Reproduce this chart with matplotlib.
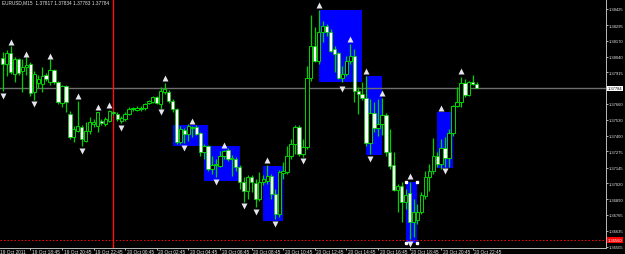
import numpy as np
import matplotlib
matplotlib.use('Agg')
import matplotlib.pyplot as plt
from matplotlib.patches import Rectangle

# EURUSD M15, bar 0 = 19 Oct 2011 17:00
opens = [1.38029, 1.37980, 1.38069, 1.37900, 1.38021, 1.37924, 1.37956, 1.37980, 1.37754, 1.37827,
         1.37819, 1.37892, 1.37835, 1.37932, 1.37835, 1.37666, 1.37803, 1.37577, 1.37391, 1.37440,
         1.37472, 1.37359, 1.37440, 1.37496, 1.37480, 1.37520, 1.37496, 1.37520, 1.37593, 1.37577,
         1.37520, 1.37537, 1.37577, 1.37617, 1.37609, 1.37617, 1.37625, 1.37666, 1.37674, 1.37714,
         1.37658, 1.37754, 1.37754, 1.37682, 1.37617, 1.37351, 1.37448, 1.37416, 1.37464, 1.37472,
         1.37424, 1.37270, 1.37319, 1.37133, 1.37165, 1.37157, 1.37238, 1.37286, 1.37214, 1.37214,
         1.37149, 1.37028, 1.36956, 1.37069, 1.37020, 1.36891, 1.37028, 1.37036, 1.37077, 1.36931,
         1.36770, 1.37101, 1.37109, 1.37238, 1.37335, 1.37472, 1.37254, 1.37311, 1.37867, 1.38126,
         1.38005, 1.38239, 1.38287, 1.38239, 1.38101, 1.38069, 1.37867, 1.37900, 1.38005, 1.38045,
         1.37763, 1.37738, 1.37706, 1.37343, 1.37585, 1.37464, 1.37496, 1.37569, 1.37270, 1.37165,
         1.36964, 1.36996, 1.36867, 1.36939, 1.36705, 1.36721, 1.36786, 1.36915, 1.37069, 1.37117,
         1.37238, 1.37173, 1.37303, 1.37222, 1.37424, 1.37641, 1.37674, 1.37827, 1.37730, 1.37835, 1.37817]
highs = [1.38077, 1.38093, 1.38126, 1.38037, 1.38029, 1.38021, 1.38037, 1.37997, 1.37924, 1.37892,
         1.37956, 1.37908, 1.38021, 1.37940, 1.37843, 1.37811, 1.37811, 1.37601, 1.37480, 1.37682,
         1.37488, 1.37512, 1.37553, 1.37537, 1.37593, 1.37537, 1.37553, 1.37609, 1.37601, 1.37593,
         1.37561, 1.37593, 1.37633, 1.37633, 1.37641, 1.37641, 1.37666, 1.37690, 1.37722, 1.37722,
         1.37795, 1.37827, 1.37771, 1.37698, 1.37625, 1.37480, 1.37464, 1.37496, 1.37480, 1.37488,
         1.37432, 1.37335, 1.37327, 1.37238, 1.37214, 1.37278, 1.37286, 1.37303, 1.37246, 1.37230,
         1.37165, 1.37069, 1.37085, 1.37085, 1.37052, 1.37109, 1.37085, 1.37165, 1.37093, 1.36972,
         1.37125, 1.37190, 1.37319, 1.37375, 1.37488, 1.37488, 1.37375, 1.37964, 1.38376, 1.38279,
         1.38416, 1.38327, 1.38303, 1.38263, 1.38126, 1.38077, 1.37964, 1.38045, 1.38142, 1.38101,
         1.37795, 1.37835, 1.37884, 1.37698, 1.37674, 1.37698, 1.37706, 1.37585, 1.37456, 1.37270,
         1.37012, 1.37028, 1.36972, 1.37028, 1.36891, 1.36851, 1.36947, 1.37117, 1.37173, 1.37383,
         1.37270, 1.37375, 1.37391, 1.37456, 1.37650, 1.37795, 1.37875, 1.37859, 1.37843, 1.37892, 1.37834]
lows = [1.37763, 1.37884, 1.37900, 1.37835, 1.37892, 1.37754, 1.37892, 1.37722, 1.37690, 1.37787,
        1.37754, 1.37843, 1.37811, 1.37819, 1.37658, 1.37633, 1.37593, 1.37375, 1.37351, 1.37432,
        1.37319, 1.37351, 1.37416, 1.37472, 1.37432, 1.37488, 1.37480, 1.37512, 1.37569, 1.37520,
        1.37504, 1.37520, 1.37569, 1.37601, 1.37601, 1.37601, 1.37609, 1.37658, 1.37666, 1.37658,
        1.37617, 1.37738, 1.37666, 1.37593, 1.37335, 1.37335, 1.37343, 1.37359, 1.37391, 1.37407,
        1.37238, 1.37214, 1.37117, 1.37093, 1.37069, 1.37149, 1.37214, 1.37198, 1.37077, 1.37117,
        1.36972, 1.36867, 1.36891, 1.36947, 1.36826, 1.36875, 1.37004, 1.37012, 1.36891, 1.36730,
        1.36746, 1.37052, 1.37093, 1.37214, 1.37254, 1.37238, 1.37230, 1.37295, 1.37843, 1.37997,
        1.37980, 1.38158, 1.38206, 1.38077, 1.37916, 1.37859, 1.37835, 1.37884, 1.37980, 1.37674,
        1.37577, 1.37690, 1.37319, 1.37254, 1.37432, 1.37399, 1.37407, 1.37238, 1.37133, 1.36956,
        1.36786, 1.36705, 1.36810, 1.36568, 1.36584, 1.36689, 1.36770, 1.36891, 1.36956, 1.37093,
        1.37149, 1.37133, 1.37149, 1.37149, 1.37399, 1.37633, 1.37633, 1.37714, 1.37722, 1.37811, 1.37783]
closes = [1.37980, 1.38069, 1.37916, 1.38021, 1.37908, 1.37956, 1.37972, 1.37746, 1.37900, 1.37859,
          1.37884, 1.37859, 1.37932, 1.37835, 1.37674, 1.37803, 1.37674, 1.37391, 1.37456, 1.37480,
          1.37375, 1.37440, 1.37512, 1.37512, 1.37593, 1.37504, 1.37537, 1.37601, 1.37585, 1.37537,
          1.37545, 1.37577, 1.37617, 1.37625, 1.37625, 1.37625, 1.37658, 1.37682, 1.37714, 1.37666,
          1.37763, 1.37779, 1.37682, 1.37617, 1.37351, 1.37456, 1.37416, 1.37480, 1.37472, 1.37416,
          1.37270, 1.37319, 1.37133, 1.37165, 1.37173, 1.37238, 1.37278, 1.37214, 1.37222, 1.37149,
          1.37028, 1.36956, 1.37069, 1.37028, 1.36891, 1.37028, 1.37052, 1.37077, 1.36931, 1.36770,
          1.37109, 1.37117, 1.37238, 1.37335, 1.37472, 1.37254, 1.37311, 1.37867, 1.38126, 1.38005,
          1.38239, 1.38287, 1.38239, 1.38085, 1.38061, 1.37867, 1.37900, 1.38005, 1.38045, 1.37763,
          1.37738, 1.37706, 1.37343, 1.37585, 1.37464, 1.37496, 1.37569, 1.37270, 1.37157, 1.36964,
          1.36996, 1.36867, 1.36923, 1.36705, 1.36786, 1.36786, 1.36923, 1.37069, 1.37117, 1.37238,
          1.37173, 1.37303, 1.37222, 1.37424, 1.37641, 1.37674, 1.37827, 1.37730, 1.37835, 1.37819, 1.37784]

# fractal arrows (bar index, price)
up_idx = [2, 6, 12, 19, 24, 27, 41, 48, 56, 67, 80, 88, 92, 96, 103, 111, 116]
up_price = [1.38158, 1.38061, 1.38045, 1.37722, 1.37633, 1.37650, 1.37867, 1.37520, 1.37327, 1.37206,
            1.38457, 1.38182, 1.37924, 1.37746, 1.37077, 1.37625, 1.37924]
dn_idx = [0, 8, 20, 30, 40, 46, 54, 61, 64, 69, 76, 86, 93, 103, 112]
dn_price = [1.37722, 1.37658, 1.37278, 1.37464, 1.37593, 1.37303, 1.37028, 1.36834, 1.36786, 1.36689,
            1.37198, 1.37779, 1.37214, 1.36528, 1.37117]

# rectangles (bar from, bar to, price top, price bottom)
box_from = [43, 51, 66, 80, 92, 110, 102]
box_to = [52, 60, 71, 91, 96, 114, 105]
box_top = [1.37488, 1.37319, 1.37157, 1.38416, 1.37884, 1.37593, 1.37028]
box_bottom = [1.37319, 1.37036, 1.36713, 1.37835, 1.37246, 1.37141, 1.36536]

price_ticks = [1.38425, 1.38295, 1.38170, 1.38040, 1.37915, 1.37660, 1.37530, 1.37400,
               1.37275, 1.37145, 1.37020, 1.36890, 1.36765, 1.36635, 1.36505]
time_ticks = [7, 15, 23, 31, 39, 47, 55, 63, 71, 79, 87, 95, 103, 111, 119]
time_labels = ['19 Oct 18:45', '19 Oct 20:45', '19 Oct 22:45', '20 Oct 00:45', '20 Oct 02:45',
               '20 Oct 04:45', '20 Oct 06:45', '20 Oct 08:45', '20 Oct 10:45', '20 Oct 12:45',
               '20 Oct 14:45', '20 Oct 16:45', '20 Oct 18:45', '20 Oct 20:45', '20 Oct 22:45']
first_label = '19 Oct 2011'
separator_bar = 28
bid = 1.37784
level = 1.36560
title = 'EURUSD,M15  1.37817 1.37834 1.37783 1.37784'

GREEN = '#00d000'
PX = 0.72  # one pixel in points at 100 dpi
FS = 3.4    # time labels / title
FS_P = 3.0  # price scale

plt.rcParams['font.family'] = ['Liberation Sans', 'DejaVu Sans']

fig = plt.figure(figsize=(6.25, 2.55), dpi=100, facecolor='black')
ax = fig.add_axes([0, 6 / 255, 606 / 625, 249 / 255])
ax.set_facecolor('black')

idx = np.arange(len(opens))
o = np.array(opens)
c = np.array(closes)

# rectangles in background
for b0, b1, t, b in zip(box_from, box_to, box_top, box_bottom):
    ax.add_patch(Rectangle((b0, b), b1 - b0, t - b, facecolor='#0000ff', edgecolor='none', zorder=1))
# selection handles on the last rectangle
ax.plot([box_from[-1], box_to[-1], box_from[-1], box_to[-1]],
        [box_top[-1], box_top[-1], box_bottom[-1], box_bottom[-1]],
        ls='', marker='s', ms=1.6, color='white', zorder=6)

ax.axhline(bid, color='#6e6e6e', lw=1.0, zorder=1.5)
ax.axhline(level, color='#ff0000', lw=PX, ls=(0, (1.5, 2)), zorder=1.5)
ax.axvline(separator_bar, color='#ff1010', lw=1.0, zorder=1.5)

# candles
ax.vlines(idx, lows, highs, colors=GREEN, lw=0.9, zorder=2)
bull = c >= o
ax.bar(idx[bull], (c - o)[bull], bottom=o[bull], width=0.85, color='black',
       edgecolor=GREEN, linewidth=PX, zorder=3)
ax.bar(idx[~bull], (o - c)[~bull], bottom=c[~bull], width=0.85, color='white',
       edgecolor=GREEN, linewidth=0.5, zorder=3)

# fractals
ax.plot(up_idx, up_price, ls='', marker='^', ms=3.8, color='#e4e4ec', mec='none', zorder=5)
ax.plot(dn_idx, dn_price, ls='', marker='v', ms=3.8, color='#e4e4ec', mec='none', zorder=5)

ax.set_xlim(-0.684, 152.73)
ax.set_ylim(1.36496, 1.38505)

for s in ['top', 'left']:
    ax.spines[s].set_visible(False)
for s in ['right', 'bottom']:
    ax.spines[s].set_color('#b4b4b4')
    ax.spines[s].set_linewidth(PX)

ax.yaxis.tick_right()
ax.set_yticks(price_ticks)
ax.set_yticklabels(['%.5f' % p for p in price_ticks])
ax.tick_params(axis='y', colors='#b4b4b4', labelcolor='#e8e8e8', labelsize=FS_P,
               length=1.2, width=PX, pad=0.6)
ax.set_xticks(time_ticks)
ax.set_xticklabels([])
ax.tick_params(axis='x', colors='#b4b4b4', length=1.5, width=PX)

for t, lab in zip(time_ticks, time_labels):
    ax.annotate(lab, xy=(t, 0), xycoords=('data', 'axes fraction'), xytext=(1.2, -0.8),
                textcoords='offset points', ha='left', va='top', fontsize=FS, color='#e8e8e8')
ax.annotate(first_label, xy=(0, 0), xycoords='axes fraction', xytext=(0.3, -0.8),
            textcoords='offset points', ha='left', va='top', fontsize=FS, color='#e8e8e8',
            annotation_clip=False)

# price labels for bid and level lines
ax.annotate('%.5f' % bid, xy=(1, bid), xycoords=('axes fraction', 'data'), xytext=(1.5, 0),
            textcoords='offset points', ha='left', va='center', fontsize=FS_P, color='black',
            bbox=dict(boxstyle='square,pad=0.15', fc='white', ec='none'), annotation_clip=False)
ax.annotate('%.5f' % level, xy=(1, level), xycoords=('axes fraction', 'data'), xytext=(1.5, 0),
            textcoords='offset points', ha='left', va='center', fontsize=FS_P, color='white',
            bbox=dict(boxstyle='square,pad=0.15', fc='#ff0000', ec='none'), annotation_clip=False)

ax.text(0.003, 1.0, title, transform=ax.transAxes, ha='left', va='top', fontsize=FS,
        color='#e8e8e8')

fig.savefig('out.png', dpi=100, facecolor='black')
